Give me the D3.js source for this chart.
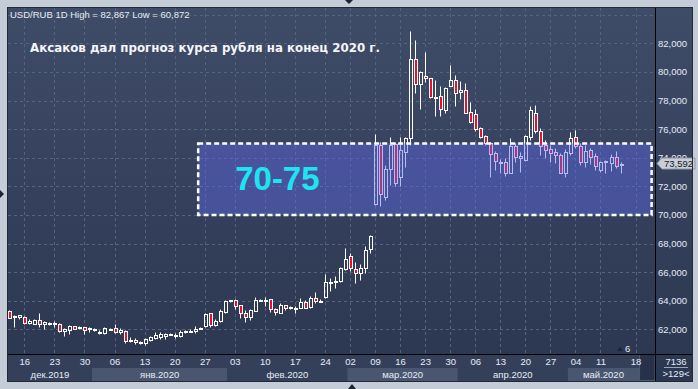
<!DOCTYPE html>
<html>
<head>
<meta charset="utf-8">
<script src="https://cdn.jsdelivr.net/npm/d3@7"></script>
<style>
  html, body { margin: 0; padding: 0; background: #c4ccd8; }
  svg { display: block; }
  .lbl { font-family: "Liberation Sans", Arial, sans-serif; font-size: 9.5px; fill: #e6ecf5; }
</style>
</head>
<body>
<div id="chart"></div>
<script>
// USD/RUB daily bars, 16.12.2019 - 15.05.2020
const opens = [
  63.28, 62.84, 62.89, 62.86, 62.44, 62.40, 62.63, 62.40, 62.42, 62.40,
  62.40, 61.88, 61.93, 62.21, 62.13, 62.14, 62.07, 62.05, 61.81, 61.72,
  62.04, 62.07, 61.79, 61.91, 61.23, 61.28, 61.07, 61.02, 61.25, 61.39,
  61.44, 61.56, 61.65, 61.56, 61.51, 61.86, 61.90, 61.86, 62.11, 62.23,
  63.12, 62.28, 62.61, 63.24, 64.00, 64.05, 63.67, 63.11, 62.88, 63.30,
  64.02, 64.04, 64.09, 63.39, 63.16, 63.67, 63.53, 63.50, 63.51, 63.91,
  63.53, 64.16, 64.00, 64.23, 65.32, 65.39, 65.40, 66.21, 67.12, 66.19,
  65.96, 66.26, 67.59, 70.74, 74.89, 71.23, 73.19, 74.96, 72.63, 74.42,
  75.36, 80.88, 79.13, 79.71, 79.55, 78.27, 78.32, 77.34, 79.04, 79.43,
  78.57, 78.74, 77.17, 77.03, 76.05, 75.50, 75.01, 74.33, 73.60, 73.72,
  72.95, 74.81, 73.95, 73.84, 75.47, 77.10, 75.89, 74.88, 74.58, 74.37,
  74.18, 72.95, 74.30, 75.47, 74.81, 73.72, 74.53, 74.11, 73.14, 73.67,
  73.65, 74.07, 73.46
];
const highs = [
  63.35, 63.00, 63.03, 62.96, 62.72, 62.72, 63.12, 62.58, 62.54, 62.56,
  62.47, 62.07, 62.30, 62.26, 62.21, 62.19, 62.19, 62.12, 61.95, 62.19,
  62.07, 62.37, 62.07, 61.95, 61.44, 61.42, 61.16, 61.37, 61.53, 61.79,
  61.79, 61.77, 61.72, 61.72, 61.95, 61.95, 62.02, 62.26, 62.16, 63.17,
  63.17, 62.70, 63.40, 64.05, 64.05, 64.10, 63.70, 63.35, 63.40, 64.23,
  64.14, 64.28, 64.12, 63.46, 63.81, 63.72, 63.63, 63.63, 64.16, 64.05,
  64.33, 64.58, 64.09, 65.86, 65.61, 65.72, 66.38, 67.66, 67.31, 66.68,
  66.56, 67.82, 68.62, 75.66, 75.12, 73.49, 75.47, 75.12, 75.43, 75.47,
  82.867, 82.23, 80.09, 81.37, 79.60, 79.43, 79.00, 78.97, 80.48, 79.78,
  79.36, 79.25, 77.92, 77.38, 76.12, 75.59, 75.12, 74.50, 73.88, 73.95,
  75.35, 75.00, 74.42, 75.58, 77.61, 77.68, 76.05, 75.23, 74.88, 74.65,
  74.30, 74.58, 75.82, 75.93, 75.00, 74.88, 74.65, 74.30, 73.79, 73.84,
  74.25, 74.46, 73.72
];
const lows = [
  62.78, 62.19, 62.75, 62.35, 62.35, 62.35, 62.19, 62.02, 62.30, 62.16,
  61.79, 61.53, 61.67, 62.00, 62.05, 61.67, 61.84, 61.91, 61.65, 61.67,
  62.00, 61.72, 61.65, 61.02, 61.11, 60.95, 61.00, 60.872, 61.18, 61.30,
  61.35, 61.30, 61.58, 61.39, 61.46, 61.77, 61.81, 61.77, 62.05, 62.16,
  62.19, 62.23, 62.51, 63.12, 63.88, 63.39, 62.81, 62.53, 62.65, 63.25,
  63.98, 63.63, 63.23, 62.98, 63.12, 63.35, 63.44, 63.16, 63.46, 63.46,
  63.50, 63.86, 63.93, 64.19, 64.70, 64.86, 65.33, 66.14, 66.10, 65.26,
  65.44, 65.96, 67.31, 70.69, 70.65, 71.04, 72.09, 72.05, 72.02, 73.37,
  74.89, 78.50, 77.38, 79.32, 78.15, 76.92, 76.92, 77.15, 79.02, 77.62,
  78.11, 77.10, 76.40, 75.87, 75.36, 74.89, 72.67, 73.16, 72.95, 72.72,
  72.90, 73.72, 73.02, 73.80, 75.24, 75.75, 74.18, 73.95, 73.72, 73.65,
  72.90, 72.62, 74.18, 74.65, 73.49, 73.32, 73.56, 73.14, 73.02, 72.95,
  73.09, 73.25, 72.95
];
const closes = [
  62.82, 62.96, 62.98, 62.47, 62.58, 62.68, 62.40, 62.49, 62.44, 62.41,
  61.88, 62.02, 62.26, 62.05, 62.14, 61.98, 62.08, 61.93, 61.82, 62.12,
  62.05, 61.79, 61.95, 61.18, 61.24, 61.11, 61.14, 61.30, 61.44, 61.58,
  61.70, 61.70, 61.66, 61.60, 61.84, 61.87, 61.91, 62.05, 62.12, 63.07,
  62.30, 62.56, 63.26, 63.98, 64.02, 63.65, 63.11, 62.88, 63.35, 64.05,
  64.03, 64.05, 63.39, 63.18, 63.70, 63.51, 63.54, 63.51, 63.93, 63.51,
  64.16, 64.00, 64.01, 65.28, 65.33, 65.40, 66.26, 66.89, 66.26, 65.96,
  66.26, 67.54, 68.55, 74.89, 71.44, 73.21, 74.89, 72.21, 74.54, 75.36,
  80.88, 79.13, 79.97, 79.55, 78.27, 78.25, 77.38, 78.85, 79.43, 78.55,
  78.74, 77.15, 76.52, 76.01, 75.47, 75.01, 74.26, 73.74, 73.72, 72.95,
  74.81, 74.07, 74.11, 75.51, 77.33, 75.89, 74.81, 74.53, 74.35, 74.18,
  72.95, 74.42, 75.35, 74.81, 73.72, 74.46, 74.07, 73.42, 73.67, 73.76,
  74.07, 73.42, 73.592
];

// week ticks (bar index of each Monday) and month bands (first bar of month)
const weekLabels = ["16", "23", "30", "06", "13", "20", "27", "03", "10", "17", "24",
  "02", "09", "16", "23", "30", "06", "13", "20", "27", "04", "11", "18"];
const weekBars = [3, 9, 15, 21, 27, 33, 39, 45, 51, 57, 63,
  68, 73, 78, 83, 88, 93, 98, 103, 108, 113, 118, 125];
const monthLabels = ["дек.2019", "янв.2020", "фев.2020", "мар.2020", "апр.2020", "май.2020"];
const monthBars = [-0.3, 17, 44, 68, 90, 112];
const monthEnd = 126.2;

const priceTicks = [62, 64, 66, 68, 70, 72, 74, 76, 78, 80, 82];
const gridPrices = [62, 64, 66, 68, 70, 72, 74, 76, 78, 80, 82, 84];

// forecast zone annotation
const zoneLow = 70, zoneHigh = 75;
const zoneBars = [37.7, 128.2];
const zoneLabel = "70-75";
const lastPrice = 73.592;

const headerText = "USD/RUB 1D High = 82,867 Low = 60,872";
const titleText = "Аксаков дал прогноз курса рубля на конец 2020 г.";

const width = 698, height = 389;
const frame = {left: 8, top: 8, right: 692, bottom: 381};
const plotRight = 655, plotBottom = 354;

const data = opens.map((o, i) => ({i, o, h: highs[i], l: lows[i], c: closes[i]}));

const x = d3.scaleLinear().domain([0, 129]).range([9.3, 655.6]);
const y = d3.scaleLinear().domain([60, 84]).range([357.9, 14.7]);
const px = v => Math.round(y(v)) + 0.5;
const ruFmt = v => d3.format(".3f")(v).replace(".", ",");

const svg = d3.select("#chart").append("svg")
    .attr("width", width)
    .attr("height", height);

const defs = svg.append("defs");
const grad = defs.append("linearGradient")
    .attr("id", "bg")
    .attr("x1", 0).attr("y1", 0).attr("x2", 0).attr("y2", 1);
grad.append("stop").attr("offset", "0%").attr("stop-color", "#3f4c68");
grad.append("stop").attr("offset", "100%").attr("stop-color", "#2b3650");

defs.append("clipPath").attr("id", "plotClip")
    .append("rect")
    .attr("x", frame.left).attr("y", frame.top)
    .attr("width", plotRight - frame.left)
    .attr("height", plotBottom - frame.top);

// outer panel
svg.append("rect")
    .attr("width", width).attr("height", height)
    .attr("fill", "#c4ccd8");

svg.append("rect")
    .attr("x", frame.left).attr("y", frame.top)
    .attr("width", frame.right - frame.left)
    .attr("height", frame.bottom - frame.top)
    .attr("fill", "url(#bg)");

// time axis row
svg.append("rect")
    .attr("x", frame.left).attr("y", plotBottom)
    .attr("width", plotRight - frame.left)
    .attr("height", frame.bottom - plotBottom)
    .attr("fill", "#34405a");

const bandX0 = i => Math.max(frame.left, x(monthBars[i] - 0.5));
const bandX1 = i => x((i + 1 < monthBars.length ? monthBars[i + 1] : monthEnd) - 0.5);

svg.append("g")
    .selectAll("rect")
    .data(monthLabels)
    .join("rect")
    .attr("x", (d, i) => bandX0(i))
    .attr("y", 368)
    .attr("width", (d, i) => bandX1(i) - bandX0(i))
    .attr("height", frame.bottom - 368)
    .attr("fill", (d, i) => i % 2 ? "#4a5670" : "#34405a");

svg.append("g")
    .selectAll("text")
    .data(monthLabels)
    .join("text")
    .attr("class", "lbl")
    .attr("x", (d, i) => (bandX0(i) + bandX1(i)) / 2)
    .attr("y", 377.5)
    .attr("text-anchor", "middle")
    .text(d => d);

// scroll stub at end of time axis
svg.append("rect")
    .attr("x", x(monthEnd - 0.5) + 0.5).attr("y", plotBottom + 0.5)
    .attr("width", plotRight - x(monthEnd - 0.5) - 0.5)
    .attr("height", frame.bottom - plotBottom - 1)
    .attr("fill", "#27314a")
    .attr("stroke", "#4e5a74");

// grid
const grid = svg.append("g")
    .attr("clip-path", "url(#plotClip)")
    .attr("stroke", "#56637f")
    .attr("stroke-dasharray", "3,3");

grid.selectAll(".h")
    .data(gridPrices)
    .join("line")
    .attr("class", "h")
    .attr("x1", frame.left).attr("x2", plotRight)
    .attr("y1", d => px(d)).attr("y2", d => px(d));

grid.selectAll(".v")
    .data(weekBars)
    .join("line")
    .attr("class", "v")
    .attr("x1", d => Math.round(x(d)) + 0.5).attr("x2", d => Math.round(x(d)) + 0.5)
    .attr("y1", frame.top).attr("y2", plotBottom);

// candles
const candles = svg.append("g")
    .attr("clip-path", "url(#plotClip)");

const bar = candles.selectAll("g")
    .data(data)
    .join("g")
    .attr("transform", d => `translate(${Math.round(x(d.i))},0)`);

bar.append("line")
    .attr("x1", 0.5).attr("x2", 0.5)
    .attr("y1", d => px(d.h))
    .attr("y2", d => px(Math.max(d.o, d.c)))
    .attr("stroke", "#ffffff");

bar.append("line")
    .attr("x1", 0.5).attr("x2", 0.5)
    .attr("y1", d => px(Math.min(d.o, d.c)))
    .attr("y2", d => px(d.l))
    .attr("stroke", "#ffffff");

bar.append("rect")
    .attr("x", -0.5)
    .attr("width", 3)
    .attr("y", d => px(Math.max(d.o, d.c)))
    .attr("height", d => Math.max(1, px(Math.min(d.o, d.c)) - px(Math.max(d.o, d.c))))
    .attr("fill", d => d.c < d.o ? "#e6102c" : "none")
    .attr("stroke", "#ffffff");

// forecast zone
const zone = svg.append("g");
zone.append("rect")
    .attr("x", x(zoneBars[0]))
    .attr("y", y(zoneHigh))
    .attr("width", x(zoneBars[1]) - x(zoneBars[0]))
    .attr("height", y(zoneLow) - y(zoneHigh))
    .attr("fill", "#5e69e6")
    .attr("fill-opacity", 0.45)
    .attr("stroke", "#ffffff")
    .attr("stroke-width", 2.5)
    .attr("stroke-dasharray", "5,3");

zone.append("text")
    .attr("x", x(zoneBars[0]) + 37)
    .attr("y", y(zoneLow) - 25)
    .attr("font-family", "'Liberation Sans', Arial, sans-serif")
    .attr("font-weight", "bold")
    .attr("font-size", 33)
    .attr("fill", "#1ee4f2")
    .text(zoneLabel);

// header + title
svg.append("text")
    .attr("class", "lbl")
    .attr("x", 10).attr("y", 18)
    .attr("fill", "#eef2f8")
    .text(headerText);

svg.append("text")
    .attr("x", 30).attr("y", 52)
    .attr("font-family", "'DejaVu Sans', sans-serif")
    .attr("font-weight", "bold")
    .attr("font-size", 13)
    .attr("fill", "#f4f6fa")
    .attr("textLength", 350)
    .attr("lengthAdjust", "spacingAndGlyphs")
    .text(titleText);

// price axis
const yAxis = svg.append("g")
    .attr("transform", `translate(${plotRight},0)`)
    .call(d3.axisRight(y).tickValues(priceTicks).tickFormat(ruFmt).tickSize(0).tickPadding(3))
    .call(g => g.select(".domain").remove());
yAxis.selectAll("text")
    .attr("class", "lbl")
    .attr("font-size", null).attr("font-family", null);

// time axis
const xAxis = svg.append("g")
    .attr("transform", `translate(0,${plotBottom})`)
    .call(d3.axisBottom(x).tickValues(weekBars).tickFormat((d, i) => weekLabels[i]).tickSize(0).tickPadding(4))
    .call(g => g.select(".domain").remove());
xAxis.selectAll("text")
    .attr("class", "lbl")
    .attr("font-size", null).attr("font-family", null);

// last price tag (covers the lower half of the 74,000 label, as in the terminal)
const tagY = y(lastPrice);
svg.append("path")
    .attr("d", `M${plotRight + 2},${tagY} L${plotRight + 7},${tagY - 5.5} L${plotRight + 40},${tagY - 5.5} L${plotRight + 40},${tagY + 5.5} L${plotRight + 7},${tagY + 5.5} Z`)
    .attr("fill", "#c9ced7")
    .attr("stroke", "#8e97a6");
svg.append("text")
    .attr("class", "lbl")
    .attr("x", plotRight + 9).attr("y", tagY + 3.5)
    .style("fill", "#111822")
    .text(ruFmt(lastPrice));

// bar counters in the corner
const corner = svg.append("g").attr("text-anchor", "middle");
corner.append("text").attr("class", "lbl")
    .attr("x", 676).attr("y", 364.5).text("7136");
corner.append("line")
    .attr("x1", 664).attr("x2", 688).attr("y1", 367.5).attr("y2", 367.5)
    .attr("stroke", "#9aa4b6");
corner.append("text").attr("class", "lbl")
    .attr("x", 676).attr("y", 376.5).text(">129<");

// marker near the end of the time axis
svg.append("path")
    .attr("d", "M617,351 L620,347 L623,351 Z")
    .attr("fill", "#1c2434");
svg.append("text").attr("class", "lbl")
    .attr("x", 625).attr("y", 352).text("6");

// separators
svg.append("line")
    .attr("x1", plotRight + 0.5).attr("x2", plotRight + 0.5)
    .attr("y1", frame.top).attr("y2", frame.bottom)
    .attr("stroke", "#000000");
svg.append("line")
    .attr("x1", frame.left).attr("x2", frame.right)
    .attr("y1", plotBottom + 0.5).attr("y2", plotBottom + 0.5)
    .attr("stroke", "#000000");
svg.append("rect")
    .attr("x", frame.left - 0.5).attr("y", frame.top - 0.5)
    .attr("width", frame.right - frame.left + 1)
    .attr("height", frame.bottom - frame.top + 1)
    .attr("fill", "none")
    .attr("stroke", "#222a38");

// splitter arrows on the outer panel
svg.append("g")
    .attr("fill", "#1b2330")
    .selectAll("path")
    .data(["M345,0 L353,0 L349,4 Z", "M348,389 L356,389 L352,384 Z", "M0,190 L0,198 L4,194 Z"])
    .join("path")
    .attr("d", d => d);
</script>
</body>
</html>
